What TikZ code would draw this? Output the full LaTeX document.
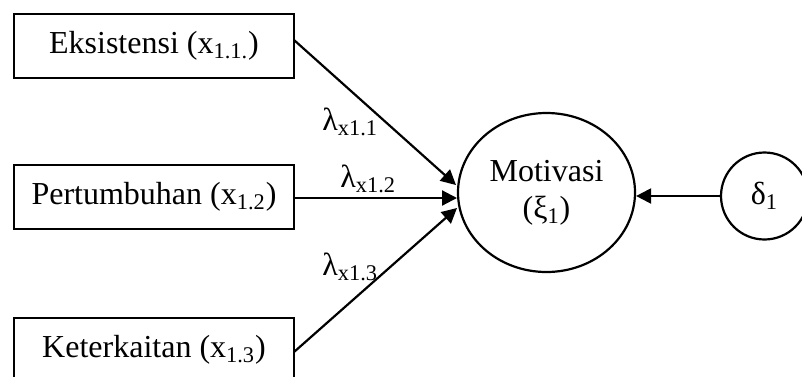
\documentclass[tikz,border=0pt]{standalone}
\usepackage{fontspec}
\setmainfont{Liberation Serif}
\usetikzlibrary{arrows.meta,shapes.geometric}
\begin{document}
\begin{tikzpicture}[x=0.5pt,y=-0.5pt,
  every node/.style={font=\fontsize{16}{18.5}\selectfont},
  var/.style={draw,line width=1.1pt,minimum width=140pt,minimum height=32pt,inner sep=0pt},
  lat/.style={draw,line width=1.1pt,ellipse,minimum width=88.5pt,minimum height=79.5pt,inner sep=0pt,align=center},
  err/.style={draw,line width=1.1pt,circle,minimum size=43.5pt,inner sep=0pt},
  path/.style={line width=1.1pt,-{Triangle[length=7.5pt,width=7.5pt]}},
  lab/.style={anchor=base west,inner sep=0pt}]
\useasboundingbox (0,0) rectangle (802,376);
\clip (0,0) rectangle (802,376);
\node[var] (b1) at (154,46) {Eksistensi (x\textsubscript{1.1.})};
\node[var] (b2) at (154,197) {Pertumbuhan (x\textsubscript{1.2})};
\node[var] (b3) at (154,350) {Keterkaitan (x\textsubscript{1.3})};
\node[lat] (m) at (546.5,192.5) {Motivasi\\(ξ\textsubscript{1})};
\node[err] (d) at (764.5,196) {δ\textsubscript{1}};
\coordinate (s1) at (294,40);
\coordinate (s2) at (294,198);
\coordinate (s3) at (294,352);
\coordinate (t1) at (456,185);
\coordinate (t2) at (457,198);
\coordinate (t3) at (457,208);
\draw[path] (s1) -- (t1);
\draw[path] (s2) -- (t2);
\draw[path] (s3) -- (t3);
\draw[path] (d.west) -- (d.west -| m.east);
\node[lab] (l1) at (322,130) {λ\textsubscript{x1.1}};
\node[lab] (l2) at (340,187) {λ\textsubscript{x1.2}};
\node[lab] (l3) at (322,275) {λ\textsubscript{x1.3}};
\end{tikzpicture}
\end{document}
